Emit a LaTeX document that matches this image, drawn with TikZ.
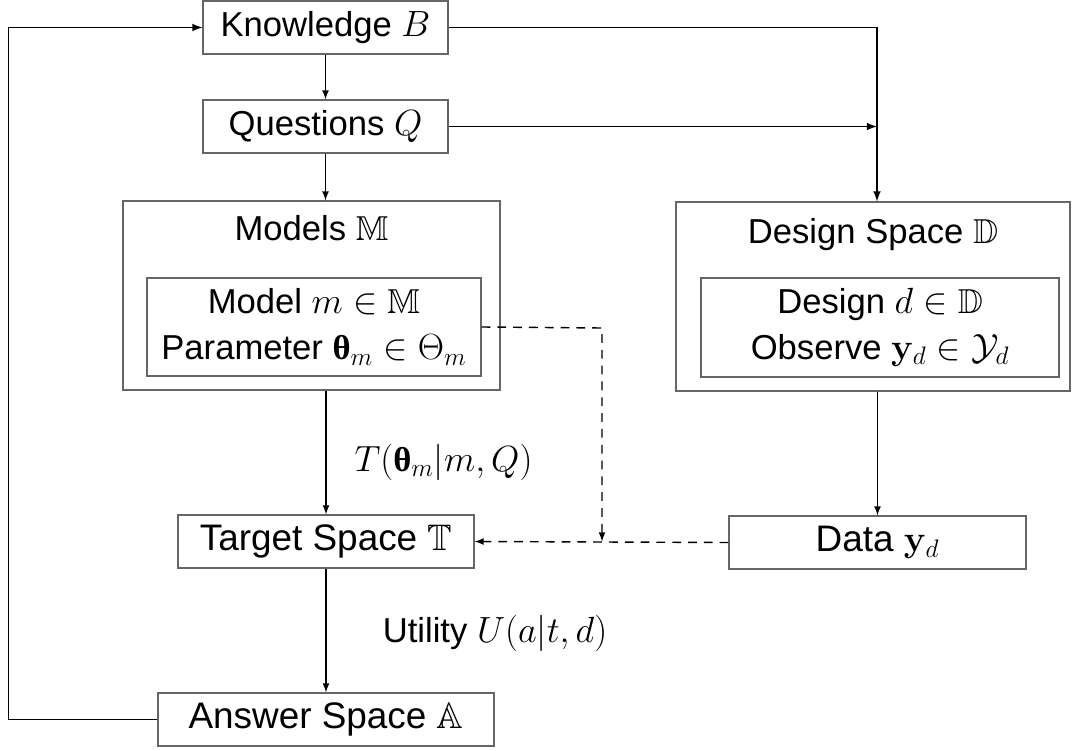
\documentclass[tikz,border=0pt]{standalone}
\usepackage[no-math]{fontspec}
\setmainfont{Liberation Sans}
\newfontfamily\thetafont{Liberation Serif}
\usepackage{amsmath}
\usepackage{amssymb}
\usepackage{tikz}
\newcommand{\btheta}{\text{\thetafont\bfseries θ}}

\begin{document}
\begin{tikzpicture}[
    >=latex,
    font=\fontsize{19.7}{26}\selectfont,
    box/.style={draw=black!60, line width=0.6pt, align=center, inner sep=0pt},
    bigtext/.style={font=\fontsize{21}{26}\selectfont},
    conn/.style={draw=black, line width=0.8pt},
    dconn/.style={draw=black, line width=0.8pt, dash pattern=on 5pt off 4pt}]
    \useasboundingbox (0, 0) rectangle (21.46, -15.02);
    \node[box, minimum width=4.9cm, minimum height=1.06cm] (know) at (6.51, -0.55) {Knowledge $B$};
    \node[box, minimum width=4.9cm, minimum height=1.06cm] (ques) at (6.51, -2.53) {Questions $Q$};
    \node[box, minimum width=7.54cm, minimum height=3.78cm] (models) at (6.23, -5.91) {};
    \node[anchor=center] (modtitle) at (6.23, -4.56) {Models $\mathbb{M}$};
    \node[box, minimum width=6.68cm, minimum height=1.96cm] (model) at (6.28, -6.54)
        {Model $m \in \mathbb{M}$\\ Parameter $\btheta_m \in \Theta_m$};
    \node[box, minimum width=7.88cm, minimum height=3.78cm] (design) at (17.46, -5.93) {};
    \node[anchor=center] (destitle) at (17.46, -4.70) {Design Space $\mathbb{D}$};
    \node[box, minimum width=7.16cm, minimum height=1.98cm] (dsgn) at (17.6, -6.55)
        {Design $d \in \mathbb{D}$\\ Observe $\mathbf{y}_d \in \mathcal{Y}_d$};
    \node[box, bigtext, minimum width=5.92cm, minimum height=1.06cm] (target) at (6.52, -10.83) {Target Space $\mathbb{T}$};
    \node[box, bigtext, minimum width=5.94cm, minimum height=1.06cm] (data) at (17.55, -10.85) {Data $\mathbf{y}_d$};
    \node[box, bigtext, minimum width=6.72cm, minimum height=1.06cm] (answer) at (6.52, -14.39) {Answer Space $\mathbb{A}$};
    \node[anchor=center] (tlabel) at (8.87, -9.24) {$T(\btheta_m|m,Q)$};
    \node[anchor=center] (ulabel) at (9.9, -12.66) {Utility $U(a|t,d)$};
    \coordinate (jn) at (17.54, -0.58);
    \coordinate (fb) at (0.17, -14.42);
    \coordinate (dv) at (12.04, -6.56);
    \draw[conn, ->] (know.south) -- (ques.north);
    \draw[conn, ->] (ques.south) -- (ques.south |- models.north);
    \draw[conn, ->] (models.south -| target.north) -- (target.north);
    \draw[conn, ->] (target.south) -- (answer.north);
    \draw[conn, ->] (design.south -| data.north) -- (data.north);
    \draw[conn, line width=1pt, ->] (know.east) -- (know.east -| jn) -- (jn |- design.north);
    \draw[conn, line width=1pt, ->] (ques.east) -- (ques.east -| jn);
    \draw[conn, line width=1pt, ->] (answer.west) -- (answer.west -| fb) -- (fb |- know.west) -- (know.west);
    \draw[dconn, ->] (model.east) -- (dv) -- (dv |- target.east);
    \draw[dconn, ->] (data.west) -- (target.east);
\end{tikzpicture}
\end{document}
